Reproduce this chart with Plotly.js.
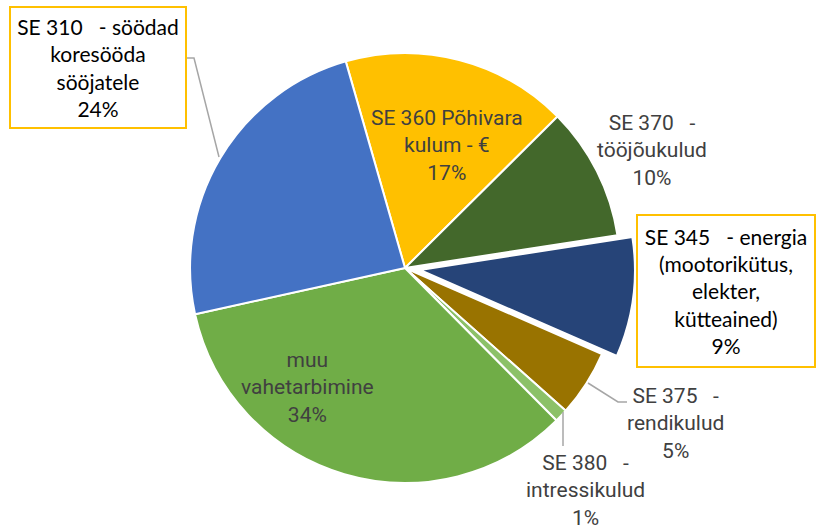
<!DOCTYPE html>
<html>
<head>
<meta charset="utf-8">
<script src="https://cdn.plot.ly/plotly-3.0.1.min.js"></script>
<style>html,body{margin:0;padding:0;background:#fff;}#chart{width:817px;height:525px;}</style>
</head>
<body>
<div id="chart"></div>
<script>
// ---- data ----
var categories = [
  'SE 360 Põhivara<br>kulum - €',
  'SE 370\u00a0\u00a0 -<br>tööjõukulud',
  'SE 345\u00a0\u00a0 - energia<br>(mootorikütus,<br>elekter,<br>kütteained)',
  'SE 375\u00a0\u00a0 -<br>rendikulud',
  'SE 380\u00a0\u00a0 -<br>intressikulud',
  'muu<br>vahetarbimine',
  'SE 310\u00a0\u00a0 - söödad<br>koresööda<br>sööjatele'
];
var values = [17, 10, 9, 5, 1, 34, 24];

// ---- styles / positions ----
var colors = ['#FFC000', '#43682B', '#264478', '#997300', '#8CC168', '#70AD47', '#4472C4'];
var pulls = [0, 0, 0.07, 0, 0, 0, 0];
// label centres in pixels
var labelX = [447, 652, 726, 675, 585, 307, 98];
var labelY = [145, 150, 291, 423, 490, 387, 67.5];
var boxed = [false, false, true, false, false, false, true];
var boxW = [0, 0, 172, 0, 0, 0, 170];
var boxH = [0, 0, 146, 0, 0, 0, 115];

var W = 817, H = 525;
function px(x) { return x / W; }
function py(y) { return 1 - y / H; }

var total = values.reduce(function (a, b) { return a + b; }, 0);

var annotations = categories.map(function (c, i) {
  var pct = Math.round(values[i] / total * 100) + '%';
  var a = {
    xref: 'paper', yref: 'paper',
    x: px(labelX[i]), y: py(labelY[i]),
    xanchor: 'center', yanchor: 'middle',
    text: c + '<br>' + pct,
    showarrow: false,
    align: 'center'
  };
  if (boxed[i]) {
    a.font = {family: 'Lato, Carlito, sans-serif', size: 21, color: '#000000'};
    a.bordercolor = '#FFC000';
    a.borderwidth = 2;
    a.borderpad = 2;
    a.bgcolor = '#ffffff';
    a.width = boxW[i];
    a.height = boxH[i];
  } else {
    a.font = {family: 'Roboto, sans-serif', size: 21, color: '#404040'};
  }
  return a;
});

var leaderColor = '#A6A6A6';
function pathFrom(pts) {
  return pts.map(function (p, k) { return (k ? 'L ' : 'M ') + px(p[0]) + ',' + py(p[1]); }).join(' ');
}
var leaders = [
  [[186, 58], [194, 58], [219, 157]],
  [[588, 383], [618, 402], [627, 402]],
  [[563, 412], [563, 446]]
];
var shapes = leaders.map(function (pts) {
  return {type: 'path', xref: 'paper', yref: 'paper', path: pathFrom(pts),
          line: {color: leaderColor, width: 1.5}};
});

var trace = {
  type: 'pie',
  labels: categories,
  values: values,
  sort: false,
  direction: 'clockwise',
  rotation: -16,
  pull: pulls,
  textinfo: 'none',
  hoverinfo: 'label+percent',
  marker: {colors: colors, line: {color: '#ffffff', width: 2}},
  domain: {x: [175 / W, 635 / W], y: [1 - 498 / H, 1 - 38 / H]},
  showlegend: false
};

var layout = {
  width: W, height: H,
  margin: {l: 0, r: 0, t: 0, b: 0},
  paper_bgcolor: '#ffffff',
  showlegend: false,
  annotations: annotations,
  shapes: shapes
};

Plotly.newPlot('chart', [trace], layout, {staticPlot: true, displayModeBar: false});
</script>
</body>
</html>
